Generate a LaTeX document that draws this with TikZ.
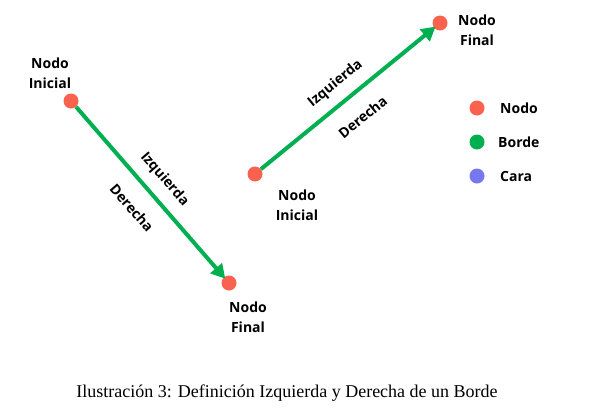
\documentclass[tikz,border=0pt]{standalone}
\usepackage{fontspec}
\setmainfont{Liberation Serif}
\setsansfont{Open Sans}
\usetikzlibrary{arrows.meta}

\definecolor{nodored}{RGB}{250,98,80}
\definecolor{bordegreen}{RGB}{0,176,80}
\definecolor{carablue}{RGB}{118,120,238}

\tikzset{
  dot/.style={circle, inner sep=0pt, minimum size=15pt},
  nodo/.style={dot, fill=nodored},
  etiq/.style={font=\sffamily\bfseries\fontsize{14}{20}\selectfont, align=center, inner sep=0pt},
  borde/.style={draw=bordegreen, line width=4pt, -{Triangle[length=14pt, width=15pt]}, shorten >=-2pt},
  lado/.style={font=\sffamily\bfseries\fontsize{14}{16}\selectfont, sloped, inner sep=0pt}
}

\begin{document}
\begin{tikzpicture}[x=1pt, y=-1pt]
\useasboundingbox (0,0) rectangle (599,418);

% borde que baja
\node [nodo] (ini1) at (71,101) {};
\node [nodo] (fin1) at (229,283) {};
\node [etiq] (tini1) at (50,73) {Nodo\\Inicial};
\node [etiq] (tfin1) at (248,317) {Nodo\\Final};
\draw [borde] (ini1) -- node [lado, above=19pt, anchor=center] (izq1) {Izquierda}
                        node [lado, below=24pt, anchor=center] (der1) {Derecha} (fin1);

% borde que sube
\node [nodo] (ini2) at (255,174) {};
\node [nodo] (fin2) at (440,23) {};
\node [etiq] (tini2) at (297,205) {Nodo\\Inicial};
\node [etiq] (tfin2) at (477,30) {Nodo\\Final};
\draw [borde] (ini2) -- node [lado, above=19pt, anchor=center] (izq2) {Izquierda}
                        node [lado, below=24pt, anchor=center] (der2) {Derecha} (fin2);

% leyenda
\node [dot, fill=nodored] (lnodo) at (477,108) {};
\node [dot, fill=bordegreen] (lborde) at (477,142) {};
\node [dot, fill=carablue] (lcara) at (477,176) {};
\node [etiq, anchor=west] (tnodo) at (500,108) {Nodo};
\node [etiq, anchor=west] (tborde) at (498,142) {Borde};
\node [etiq, anchor=west] (tcara) at (500,176) {Cara};

\node [font=\fontsize{18}{20}\selectfont] (pie) at (287,393) {Ilustración 3: Definición Izquierda y Derecha de un Borde};
\end{tikzpicture}
\end{document}
